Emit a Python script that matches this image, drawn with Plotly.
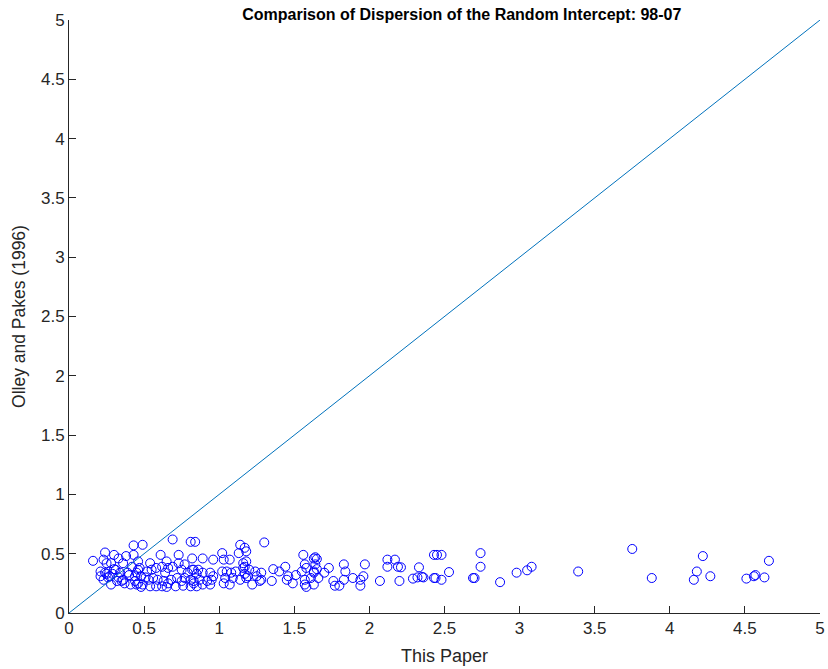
import plotly.graph_objects as go

# Random-intercept dispersion estimates: this paper (x) vs Olley and Pakes (y)
this_paper = [
    # low-x dense cluster
    0.16, 0.24, 0.23, 0.25, 0.30, 0.33, 0.38, 0.43, 0.43, 0.36, 0.21, 0.24, 0.27, 0.23,
    0.31, 0.34, 0.36, 0.32, 0.39, 0.42, 0.44, 0.45, 0.41, 0.28, 0.46, 0.21, 0.28,
    0.49, 0.69, 0.61, 0.73, 0.81, 0.82, 0.65, 0.54, 0.46, 0.47,
    0.45, 0.48, 0.52, 0.55, 0.58, 0.62, 0.64, 0.66, 0.69, 0.73, 0.75, 0.77, 0.79, 0.83,
    0.46, 0.49, 0.53, 0.56, 0.59, 0.63, 0.66, 0.68, 0.72, 0.75, 0.77, 0.81, 0.83,
    0.48, 0.54, 0.58, 0.62, 0.65, 0.71, 0.76, 0.81,
    0.26, 0.29, 0.33, 0.35, 0.40, 0.37, 0.30, 0.25, 0.44, 0.51,
    # mid cluster
    0.84, 1.14, 1.13, 1.02, 1.03, 1.07, 0.89, 0.96, 1.16, 1.18,
    0.82, 0.86, 0.85, 0.89, 0.94, 0.96, 1.02, 1.05, 1.08, 1.11, 1.16, 1.17,
    0.83, 0.87, 0.92, 0.95, 1.04, 1.09, 1.14, 1.18, 0.85, 0.89, 0.94, 1.03, 1.07,
    1.30, 1.17, 1.56, 1.63, 1.18, 1.57, 1.17, 1.20, 1.24, 1.28, 1.36, 1.44, 1.40,
    1.46, 1.51, 1.55, 1.58, 1.63, 1.19, 1.25, 1.28, 1.22, 1.27, 1.35, 1.45, 1.49,
    1.57, 1.57, 1.58, 1.63,
    # 1.6 - 2.5
    1.64, 1.65, 1.64, 1.65, 1.63, 1.61, 1.66, 1.70, 1.73, 1.76, 1.77, 1.80, 1.83,
    1.83, 1.84, 1.89, 1.94, 1.94, 1.96, 1.97, 2.07, 2.12, 2.12, 2.17, 2.19, 2.21,
    2.20, 2.29, 2.32, 2.33, 2.35, 2.36, 2.43, 2.43,
    # sparse right tail
    2.45, 2.48, 2.44, 2.48, 2.53, 2.69, 2.70, 2.74, 2.74, 2.87, 2.98, 3.05, 3.08,
    3.39, 3.75, 3.88, 4.22, 4.18, 4.16, 4.27, 4.51, 4.56, 4.57, 4.63, 4.66,
]
olley_pakes = [
    0.44, 0.51, 0.45, 0.42, 0.49, 0.46, 0.48, 0.57, 0.49, 0.42, 0.35, 0.34, 0.31, 0.28,
    0.365, 0.34, 0.28, 0.27, 0.34, 0.39, 0.31, 0.24, 0.24, 0.24, 0.365, 0.31, 0.42,
    0.575, 0.62, 0.49, 0.49, 0.60, 0.46, 0.435, 0.42, 0.435, 0.38,
    0.34, 0.31, 0.35, 0.365, 0.38, 0.39, 0.34, 0.38, 0.39, 0.42, 0.365, 0.41, 0.34, 0.365,
    0.25, 0.24, 0.28, 0.295, 0.28, 0.27, 0.25, 0.28, 0.295, 0.27, 0.295, 0.28, 0.25,
    0.22, 0.225, 0.225, 0.225, 0.22, 0.225, 0.23, 0.225,
    0.30, 0.33, 0.30, 0.27, 0.32, 0.25, 0.37, 0.33, 0.27, 0.30,
    0.60, 0.575, 0.505, 0.505, 0.45, 0.45, 0.46, 0.45, 0.42, 0.52,
    0.365, 0.365, 0.33, 0.34, 0.34, 0.31, 0.35, 0.35, 0.34, 0.35, 0.38, 0.33,
    0.27, 0.28, 0.27, 0.28, 0.295, 0.295, 0.28, 0.295, 0.225, 0.24, 0.24, 0.25, 0.24,
    0.595, 0.55, 0.49, 0.46, 0.435, 0.41, 0.39, 0.365, 0.35, 0.34, 0.37, 0.39, 0.35,
    0.31, 0.32, 0.35, 0.38, 0.34, 0.31, 0.31, 0.28, 0.24, 0.27, 0.27, 0.28, 0.25,
    0.28, 0.24, 0.22, 0.24,
    0.47, 0.455, 0.41, 0.37, 0.35, 0.295, 0.295, 0.34, 0.38, 0.27, 0.23, 0.23, 0.41,
    0.28, 0.35, 0.295, 0.28, 0.23, 0.31, 0.41, 0.27, 0.45, 0.39, 0.45, 0.39, 0.385,
    0.27, 0.29, 0.30, 0.385, 0.305, 0.30, 0.49, 0.295,
    0.49, 0.49, 0.295, 0.28, 0.345, 0.295, 0.295, 0.505, 0.39, 0.26, 0.34, 0.36, 0.39,
    0.35, 0.54, 0.295, 0.48, 0.35, 0.28, 0.31, 0.29, 0.31, 0.32, 0.30, 0.44,
]

diag = [0, 5]
tick_vals = [0, 0.5, 1, 1.5, 2, 2.5, 3, 3.5, 4, 4.5, 5]
tick_text = ["0", "0.5", "1", "1.5", "2", "2.5", "3", "3.5", "4", "4.5", "5"]

FONT = "Liberation Sans, Arial, sans-serif"
AX = "#262626"

fig = go.Figure()
fig.add_trace(go.Scatter(
    x=this_paper, y=olley_pakes, mode="markers",
    marker=dict(symbol="circle-open", size=9, color="#0000FF", line=dict(width=1, color="#0000FF")),
    showlegend=False, cliponaxis=False,
))
fig.add_trace(go.Scatter(
    x=diag, y=diag, mode="lines",
    line=dict(color="#0072BD", width=1), showlegend=False,
))

axis_common = dict(
    range=[0, 5], tickvals=tick_vals, ticktext=tick_text, automargin=False,
    showgrid=False, zeroline=False, showline=True, linecolor=AX, linewidth=1,
    mirror=False, ticks="inside", ticklen=7, tickcolor=AX, tickwidth=1,
    tickfont=dict(family=FONT, size=17, color=AX),
)

fig.update_layout(
    width=828, height=669,
    margin=dict(l=69, r=8, t=20, b=56),
    paper_bgcolor="white", plot_bgcolor="white",
    title=dict(
        text="<b>Comparison of Dispersion of the Random Intercept: 98-07</b>",
        x=0.523, xanchor="center", y=1 - 14 / 669, yanchor="middle",
        xref="paper", yref="container",
        font=dict(family=FONT, size=16, color="black"),
    ),
    xaxis=dict(**axis_common, title=dict(text="This Paper", standoff=11,
               font=dict(family=FONT, size=18, color=AX))),
    yaxis=dict(**axis_common, title=dict(text="Olley and Pakes (1996)", standoff=10,
               font=dict(family=FONT, size=17.5, color=AX))),
)

fig.write_html("out.html")
